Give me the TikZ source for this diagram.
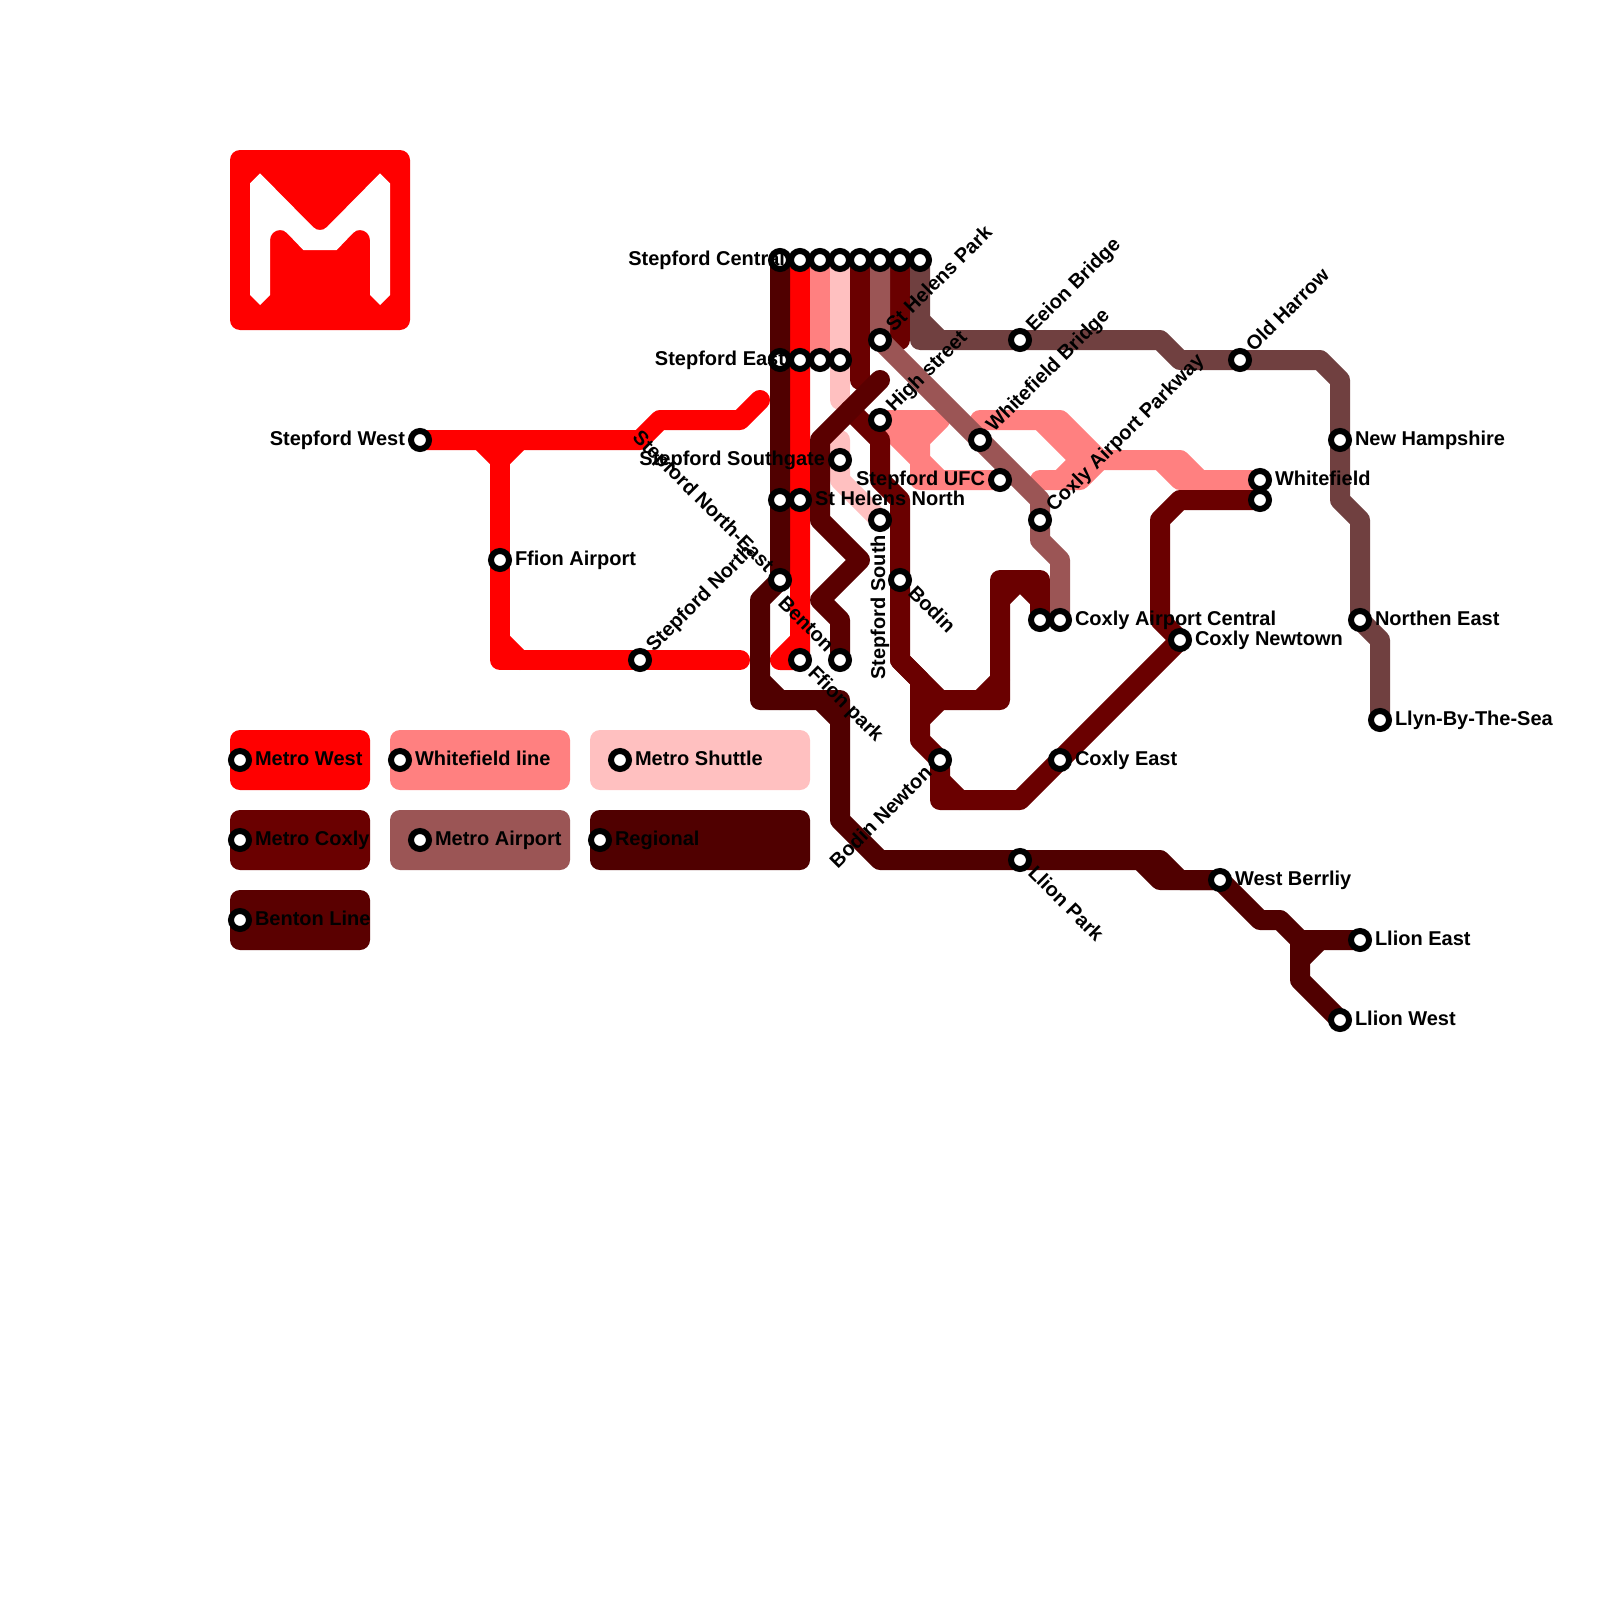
\documentclass[tikz,border=0pt]{standalone}
\usepackage{fontspec}
\setmainfont{Liberation Sans}
\definecolor{cWest}{HTML}{FF0000}
\definecolor{cWhite}{HTML}{FF8080}
\definecolor{cShut}{HTML}{FFC0C0}
\definecolor{cCox}{HTML}{6A0000}
\definecolor{cAir}{HTML}{9B5555}
\definecolor{cReg}{HTML}{500000}
\definecolor{cBen}{HTML}{5A0000}
\definecolor{cBrown}{HTML}{704040}
\tikzset{
  track/.style={line width=20pt,line cap=round,line join=round},
  stn/.style={circle,draw=black,fill=white,line width=6pt,minimum size=18pt,inner sep=0pt,outer sep=0pt},
  lbl/.style={font=\fontsize{20}{24}\selectfont\bfseries,inner sep=0pt,outer sep=0pt,text=black},
  lr/.style={lbl,anchor=base west,xshift=15pt,yshift=-5pt},
  ll/.style={lbl,anchor=base east,xshift=-15pt,yshift=-5pt},
  legbox/.style={rounded corners=10pt,draw=none},
}
\newcommand{\stat}[2]{\coordinate (#1) at (#2);}
\newcommand{\place}[1]{\node[stn] (n#1) at (#1) {};}
\begin{document}
\begin{tikzpicture}[x=1pt,y=-1pt]
\useasboundingbox (0,0) rectangle (1600,1600);
% station positions
\stat{a1}{780,260}\stat{a2}{800,260}\stat{a3}{820,260}\stat{a4}{840,260}
\stat{a5}{860,260}\stat{a6}{880,260}\stat{a7}{900,260}\stat{a8}{920,260}
\stat{b1}{780,360}\stat{b2}{800,360}\stat{b3}{820,360}\stat{b4}{840,360}
\stat{help}{880,340}\stat{eeion}{1020,340}\stat{oldh}{1240,360}
\stat{high}{880,420}\stat{wbr}{980,440}\stat{newh}{1340,440}\stat{sw}{420,440}
\stat{sg}{840,460}\stat{ufc}{1000,480}\stat{wf}{1260,480}
\stat{c1}{780,500}\stat{shn}{800,500}\stat{wf2}{1260,500}
\stat{ss}{880,520}\stat{park}{1040,520}
\stat{ffa}{500,560}\stat{sne}{780,580}\stat{bod}{900,580}
\stat{d1}{1040,620}\stat{cac}{1060,620}\stat{nor}{1360,620}\stat{cnt}{1180,640}
\stat{sn}{640,660}\stat{ffp}{800,660}\stat{ben}{840,660}
\stat{llyn}{1380,720}\stat{bn}{940,760}\stat{ce}{1060,760}
\stat{lp}{1020,860}\stat{wb}{1220,880}\stat{le}{1360,940}\stat{lw}{1340,1020}
\stat{k1}{240,760}\stat{k2}{400,760}\stat{k3}{620,760}\stat{k4}{240,840}
\stat{k5}{420,840}\stat{k6}{600,840}\stat{k7}{240,920}
% logo
\fill[cWest,rounded corners=10pt] (230,150) rectangle (410,330);
\fill[white] (260,173.3) -- (313,227) .. controls (315,229) and (317.3,230) .. (320,230)
  .. controls (322.7,230) and (325,229) .. (327,227)
  -- (380,173.3) -- (390,183.3) -- (390,295) -- (380,305) -- (370,295) -- (370,240)
  .. controls (370,234.5) and (365.5,230) .. (360,230) .. controls (357.3,230) and (354.8,231) .. (353,233)
  -- (336.7,250) -- (303.3,250) -- (287,233)
  .. controls (285.2,231) and (282.7,230) .. (280,230) .. controls (274.5,230) and (270,234.5) .. (270,240)
  -- (270,295) -- (260,305) -- (250,295) -- (250,183.3) -- cycle;
% legend
\fill[legbox,cWest] (230,730) rectangle (370,790);
\fill[legbox,cWhite] (390,730) rectangle (570,790);
\fill[legbox,cShut] (590,730) rectangle (810,790);
\fill[legbox,cCox] (230,810) rectangle (370,870);
\fill[legbox,cAir] (390,810) rectangle (570,870);
\fill[legbox,cReg] (590,810) rectangle (810,870);
\fill[legbox,cBen] (230,890) rectangle (370,950);
% Metro West
\draw[track,cWest] (sw) -- (640,440) -- (660,420) -- (740,420) -- (760,400);
\draw[track,cWest] (480,440) -- (500,460) -- (520,440);
\draw[track,cWest] (500,460) -- (ffa) -- (500,660) -- (sn) -- (740,660);
\draw[track,cWest] (500,640) -- (520,660);
\draw[track,cWest] (a2) -- (b2) -- (shn) -- (800,640) -- (780,660) -- (ffp) -- cycle;
% Whitefield
\draw[track,cWhite] (a3) -- (b3);
\draw[track,cWhite] (high) -- (940,420) -- (920,440) -- (920,480) -- (ufc);
\draw[track,cWhite] (high) -- (920,460) -- (940,480);
\draw[track,cWhite] (900,420) -- (920,440);
\draw[track,cWhite] (980,420) -- (1060,420) -- (1100,460) -- (1180,460) -- (1200,480) -- (wf);
\draw[track,cWhite] (1040,420) -- (1080,460) -- (1060,480) -- (1040,480) -- (1080,480) -- (1100,460);
\draw[track,cWhite] (1160,460) -- (1180,480) -- (wf);
% Shuttle
\draw[track,cShut] (a4) -- (b4) -- (840,400);
\draw[track,cShut] (840,440) -- (sg) -- (840,480) -- (ss);
% Coxly
\draw[track,cCox] (a5) -- (860,380);
\draw[track,cCox] (850,410) -- (880,440) -- (880,480) -- (900,500) -- (bod) -- (900,660)
  -- (940,700) -- (1000,700) -- (1000,580) -- (1040,580) -- (d1);
\draw[track,cCox] (980,700) -- (1000,680);
\draw[track,cCox] (1000,600) -- (1020,580) -- (1040,600);
\draw[track,cCox] (900,660) -- (920,680) -- (920,740) -- (bn) -- (940,800) -- (1020,800) -- (ce) -- (cnt) -- (1160,620) -- (1160,520) -- (1180,500) -- (wf2);
\draw[track,cCox] (940,700) -- (920,720);
\draw[track,cCox] (940,780) -- (960,800);
\draw[track,cCox] (a7) -- (900,340);
% Benton
\draw[track,cBen] (880,380) -- (820,440) -- (820,520) -- (860,560) -- (820,600) -- (840,620) -- (ben);
% Airport
\draw[track,cAir] (a6) -- (help) -- (wbr) -- (1040,500) -- (park) -- (1040,540) -- (1060,560) -- (cac);
% Regional
\draw[track,cReg] (a1) -- (b1) -- (c1) -- (sne) -- (760,600) -- (760,700) -- (840,700) -- (840,820) -- (880,860) -- (lp) -- (1160,860) -- (1180,880) -- (wb) -- (1260,920) -- (1280,920) -- (1300,940) -- (le);
\draw[track,cReg] (760,680) -- (780,700);
\draw[track,cReg] (820,700) -- (840,720);
\draw[track,cReg] (1140,860) -- (1160,880) -- (wb);
\draw[track,cReg] (1300,940) -- (1300,980) -- (lw);
\draw[track,cReg] (1300,960) -- (1320,940);
% Brown
\draw[track,cBrown] (a8) -- (920,340) -- (eeion) -- (1160,340) -- (1180,360) -- (oldh) -- (1320,360) -- (1340,380) -- (newh) -- (1340,500) -- (1360,520) -- (nor) -- (1380,640) -- (llyn);
\draw[track,cBrown] (920,320) -- (940,340);
% stations
\foreach \s in {a1,a2,a3,a4,a5,a6,a7,a8,b1,b2,b3,b4,help,eeion,oldh,high,wbr,newh,sw,sg,ufc,wf,c1,shn,wf2,ss,park,ffa,sne,bod,d1,cac,nor,cnt,sn,ffp,ben,llyn,bn,ce,lp,wb,le,lw,k1,k2,k3,k4,k5,k6,k7}{\place{\s}}
% labels
\node[ll] (t1) at (a2) {Stepford Central};
\node[ll] (t2) at (b2) {Stepford East};
\node[ll] (t3) at (sw) {Stepford West};
\node[ll] (t4) at (sg) {Stepford Southgate};
\node[ll] (t5) at (ufc) {Stepford UFC};
\node[lr] (t6) at (ffa) {Ffion Airport};
\node[lr] (t7) at (shn) {St Helens North};
\node[lr] (t8) at (newh) {New Hampshire};
\node[lr] (t9) at (wf) {Whitefield};
\node[lr] (t10) at (cac) {Coxly Airport Central};
\node[lr] (t11) at (cnt) {Coxly Newtown};
\node[lr] (t12) at (nor) {Northen East};
\node[lr] (t13) at (llyn) {Llyn-By-The-Sea};
\node[lr] (t14) at (ce) {Coxly East};
\node[lr] (t15) at (wb) {West Berrliy};
\node[lr] (t16) at (le) {Llion East};
\node[lr] (t17) at (lw) {Llion West};
\node[rotate=45,lr] (t18) at (help) {St Helens Park};
\node[rotate=45,lr] (t19) at (eeion) {Eeion Bridge};
\node[rotate=45,lr] (t20) at (high) {High street};
\node[rotate=45,lr] (t21) at (wbr) {Whitefield Bridge};
\node[rotate=45,lr] (t22) at (park) {Coxly Airport Parkway};
\node[rotate=45,lr] (t23) at (oldh) {Old Harrow};
\node[rotate=45,lr] (t24) at (sn) {Stepford North};
\node[rotate=-45,ll] (t25) at (sne) {Stepford North-East};
\node[rotate=-45,ll] (t26) at (ben) {Benton};
\node[rotate=-45,lr] (t27) at (ffp) {Ffion park};
\node[rotate=-45,lr] (t28) at (bod) {Bodin};
\node[rotate=-45,lr] (t29) at (lp) {Llion Park};
\node[rotate=45,ll] (t30) at (bn) {Bodin Newton};
\node[rotate=90,ll] (t31) at (ss) {Stepford South};
\node[lr] (t32) at (k1) {Metro West};
\node[lr] (t33) at (k2) {Whitefield line};
\node[lr] (t34) at (k3) {Metro Shuttle};
\node[lr] (t35) at (k4) {Metro Coxly};
\node[lr] (t36) at (k5) {Metro Airport};
\node[lr] (t37) at (k6) {Regional};
\node[lr] (t38) at (k7) {Benton Line};
\end{tikzpicture}
\end{document}
